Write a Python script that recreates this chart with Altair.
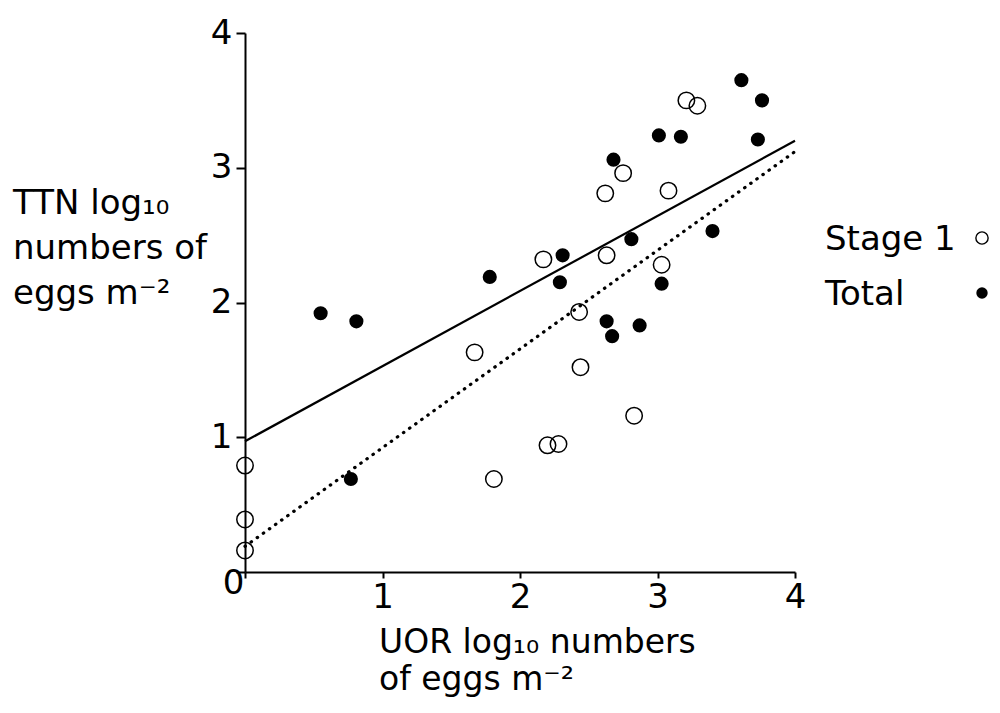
import altair as alt
import pandas as pd

# Stage 1 eggs (open circles): UOR (x) vs TTN (y), log10 numbers of eggs m^-2
stage1_x = [0.0, 0.0, 0.0, 1.81, 1.67, 2.20, 2.28, 2.83, 2.44, 2.43, 2.17, 2.63, 3.03, 2.62, 2.75, 3.08, 3.21, 3.29]
stage1_y = [0.79, 0.39, 0.16, 0.69, 1.63, 0.94, 0.95, 1.16, 1.52, 1.93, 2.32, 2.35, 2.28, 2.81, 2.96, 2.83, 3.50, 3.46]

# Total eggs (filled circles)
total_x = [0.55, 0.81, 0.77, 1.78, 2.31, 2.29, 2.81, 2.63, 2.67, 2.87, 3.03, 3.40, 2.68, 3.01, 3.17, 3.61, 3.76, 3.73]
total_y = [1.92, 1.86, 0.69, 2.19, 2.35, 2.15, 2.47, 1.86, 1.75, 1.83, 2.14, 2.53, 3.06, 3.24, 3.23, 3.65, 3.50, 3.21]

# Regression lines (endpoints)
line_x = [0.0, 4.0]
total_line_y = [0.97, 3.20]    # solid
stage1_line_y = [0.19, 3.12]   # dotted

ticks = [0, 1, 2, 3, 4]
legend_labels = ["Stage 1", "Total"]
y_title_lines = ["TTN log\u2081\u2080", "numbers of", "eggs m\u207b\u00b2"]
x_title_lines = ["UOR log\u2081\u2080 numbers", "of eggs m\u207b\u00b2"]

FONT = "DejaVu Sans"

s1 = pd.DataFrame({"x": stage1_x, "y": stage1_y})
tot = pd.DataFrame({"x": total_x, "y": total_y})
lines = pd.DataFrame({"x": line_x, "solid": total_line_y, "dotted": stage1_line_y})

xs = alt.Scale(domain=[0, 4], nice=False, zero=False)
ys = alt.Scale(domain=[0, 4], nice=False, zero=False)

xaxis = alt.Axis(
    values=ticks, title=None, grid=False, domainColor="black", domainWidth=2,
    tickColor="black", tickWidth=2, tickSize=6, format="d", labelFlush=False,
    labelFont=FONT, labelFontSize=34, labelColor="black",
    labelPadding=alt.condition("datum.value == 0", alt.value(-12), alt.value(2)),
    labelOffset=alt.condition("datum.value == 0", alt.value(-12), alt.value(0)),
)
yaxis = alt.Axis(
    values=ticks, title=None, grid=False, domainColor="black", domainWidth=2,
    tickColor="black", tickWidth=2, tickSize=9, labelPadding=4, format="d", labelFlush=False,
    labelFont=FONT, labelFontSize=34, labelColor="black",
    labelExpr="datum.value == 0 ? '' : datum.label",
)

base_lines = alt.Chart(lines)
solid = base_lines.mark_line(color="black", strokeWidth=2.2).encode(
    x=alt.X("x:Q", scale=xs, axis=xaxis),
    y=alt.Y("solid:Q", scale=ys, axis=yaxis),
)
dotted = base_lines.mark_line(color="black", strokeWidth=3.2, strokeDash=[0.5, 7], strokeCap="round").encode(
    x=alt.X("x:Q", scale=xs),
    y=alt.Y("dotted:Q", scale=ys),
)

open_pts = alt.Chart(s1).mark_point(shape="circle", filled=False, color="black", strokeWidth=1.5, size=270, opacity=1).encode(
    x=alt.X("x:Q", scale=xs),
    y=alt.Y("y:Q", scale=ys),
)
filled_pts = alt.Chart(tot).mark_circle(color="black", size=200, opacity=1).encode(
    x=alt.X("x:Q", scale=xs),
    y=alt.Y("y:Q", scale=ys),
)

def text_block(lines_list, x, y, size=34, line_height=45):
    return alt.Chart(pd.DataFrame({"t": [lines_list]})).mark_text(
        font=FONT, fontSize=size, color="black", align="left", baseline="alphabetic",
        lineHeight=line_height,
    ).encode(text="t", x=alt.value(x), y=alt.value(y))

y_title = text_block(y_title_lines, -232, 181, line_height=45)
x_title = text_block(x_title_lines, 134, 620, size=33, line_height=37)

leg_stage = alt.Chart(pd.DataFrame({"label": [legend_labels[0]]})).mark_text(
    font=FONT, fontSize=34, color="black", align="left", baseline="alphabetic"
).encode(text="label", x=alt.value(580), y=alt.value(217))
leg_total = alt.Chart(pd.DataFrame({"label": [legend_labels[1]]})).mark_text(
    font=FONT, fontSize=34, color="black", align="left", baseline="alphabetic"
).encode(text="label", x=alt.value(580), y=alt.value(272))
leg_open = alt.Chart(pd.DataFrame({"label": [legend_labels[0]]})).mark_point(
    shape="circle", filled=False, color="black", strokeWidth=1.4, size=150, opacity=1
).encode(x=alt.value(737), y=alt.value(205))
leg_fill = alt.Chart(pd.DataFrame({"label": [legend_labels[1]]})).mark_circle(
    color="black", size=130, opacity=1
).encode(x=alt.value(737), y=alt.value(260))

chart = alt.layer(
    solid, dotted, open_pts, filled_pts, y_title, x_title, leg_stage, leg_total, leg_open, leg_fill
).properties(
    width=550, height=539,
    autosize=alt.AutoSizeParams(type="none"),
    padding={"left": 237, "top": 25, "right": 196, "bottom": 126},
    background="white",
).configure_view(stroke=None)

chart.save("out.html", embed_options={"renderer": "svg", "actions": False})
